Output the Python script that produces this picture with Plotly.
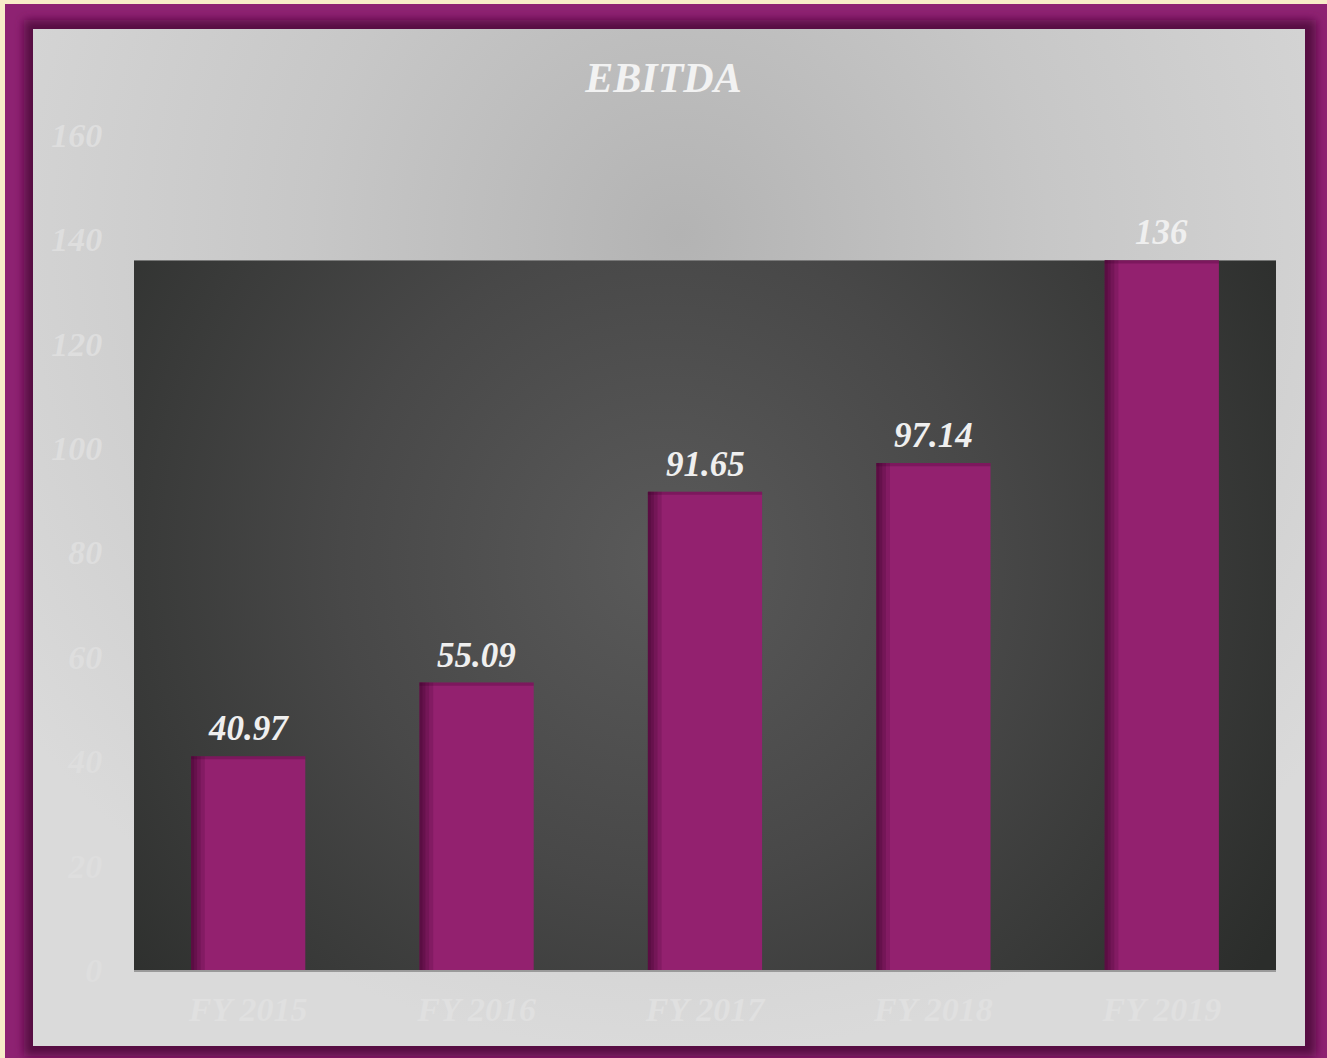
import base64
import plotly.graph_objects as go

# ---- data ----
categories = ["FY 2015", "FY 2016", "FY 2017", "FY 2018", "FY 2019"]
ebitda = [40.97, 55.09, 91.65, 97.14, 136]
value_labels = ["40.97", "55.09", "91.65", "97.14", "136"]
y_ticks = [0, 20, 40, 60, 80, 100, 120, 140, 160]

W, H = 1327, 1058
ML, MR, MT, MB = 134, 51, 135, 88
PW, PH = W - ML - MR, H - MT - MB

FONT = "Liberation Serif"
BAR = "#93216f"


def svg_uri(svg):
    return "data:image/svg+xml;base64," + base64.b64encode(svg.encode()).decode()


page_svg = f"""<svg xmlns='http://www.w3.org/2000/svg' width='{W}' height='{H}' viewBox='0 0 {W} {H}' preserveAspectRatio='none'>
<defs>
<radialGradient id='g' gradientUnits='userSpaceOnUse' cx='680' cy='235' r='820'>
<stop offset='0' stop-color='#b3b3b3'/>
<stop offset='0.45' stop-color='#c7c7c7'/>
<stop offset='1' stop-color='#dadada'/>
</radialGradient>
<filter id='b' x='-5%' y='-5%' width='110%' height='110%'><feGaussianBlur stdDeviation='5'/></filter>
</defs>
<rect x='0' y='0' width='{W}' height='{H}' fill='#f7ecc8'/>
<rect x='5' y='4' width='{W-5}' height='{H-4}' fill='#8e2272'/>
<rect x='24' y='20' width='1292' height='1036' fill='#560b42' filter='url(#b)'/>
<rect x='33' y='29' width='1272' height='1017' fill='url(#g)'/>
</svg>"""

plot_svg = """<svg xmlns='http://www.w3.org/2000/svg' width='1142' height='712' viewBox='0 0 1142 712' preserveAspectRatio='none'>
<defs>
<radialGradient id='d' gradientUnits='userSpaceOnUse' cx='530' cy='300' r='720'>
<stop offset='0' stop-color='#5a5a5a'/>
<stop offset='0.45' stop-color='#484848'/>
<stop offset='1' stop-color='#2b2d2b'/>
</radialGradient>
</defs>
<rect x='0' y='0' width='1142' height='712' fill='url(#d)'/>
</svg>"""

ymax_bg = max(ebitda)

fig = go.Figure()

fig.add_trace(go.Bar(x=categories, y=ebitda, width=0.5, marker=dict(color=BAR, line=dict(width=0)),
                     hoverinfo="x+y"))
# left inner shadow strips (soft gradient)
for w, a in [(0.06, 0.16), (0.042, 0.18), (0.026, 0.2), (0.013, 0.2)]:
    fig.add_trace(go.Bar(x=categories, y=ebitda, width=w, offset=-0.25,
                         marker=dict(color=f"rgba(50,0,35,{a})", line=dict(width=0)), hoverinfo="skip"))
# top inner shadow
fig.add_trace(go.Bar(x=categories, y=[0.6] * len(ebitda), base=[v - 0.6 for v in ebitda], width=0.5,
                     marker=dict(color="rgba(55,0,38,0.25)", line=dict(width=0)), hoverinfo="skip"))

for c, v, t in zip(categories, ebitda, value_labels):
    fig.add_annotation(x=c, y=v, text=f"<b><i>{t}</i></b>", showarrow=False, yanchor="bottom",
                       yshift=6, font=dict(family=FONT, size=35, color="#efefef"))

fig.add_layout_image(dict(source=svg_uri(page_svg), xref="paper", yref="paper",
                          x=-ML / PW, y=(PH + MT) / PH, sizex=W / PW, sizey=H / PH,
                          xanchor="left", yanchor="top", sizing="stretch", layer="below"))
fig.add_layout_image(dict(source=svg_uri(plot_svg), xref="paper", yref="y",
                          x=0, y=ymax_bg, sizex=1, sizey=ymax_bg,
                          xanchor="left", yanchor="top", sizing="stretch", layer="below"))

fig.update_layout(
    width=W, height=H,
    margin=dict(l=ML, r=MR, t=MT, b=MB, pad=0),
    barmode="overlay",
    showlegend=False,
    paper_bgcolor="#d4d4d4",
    plot_bgcolor="rgba(0,0,0,0)",
    title=dict(text="<b><i>EBITDA</i></b>", x=0.5, xanchor="center", y=1 - 77 / H, yanchor="middle",
               xref="container", yref="container",
               font=dict(family=FONT, size=42, color="#f2f2f2")),
    xaxis=dict(showgrid=False, showline=True, linecolor="#9a9a9a", linewidth=2,
               ticks="outside", ticklen=8, tickcolor="rgba(0,0,0,0)",
               tickfont=dict(family=FONT, size=34, color="#e0e0e0"),
               tickvals=categories, ticktext=[f"<b><i>{c}</i></b>" for c in categories]),
    yaxis=dict(range=[0, 160], tickvals=y_ticks, ticktext=[f"<b><i>{v}</i></b>" for v in y_ticks],
               showgrid=False, zeroline=False, showline=False,
               ticks="outside", ticklen=24, tickcolor="rgba(0,0,0,0)",
               tickfont=dict(family=FONT, size=34, color="#dedede")),
)

fig.write_html("out.html")
